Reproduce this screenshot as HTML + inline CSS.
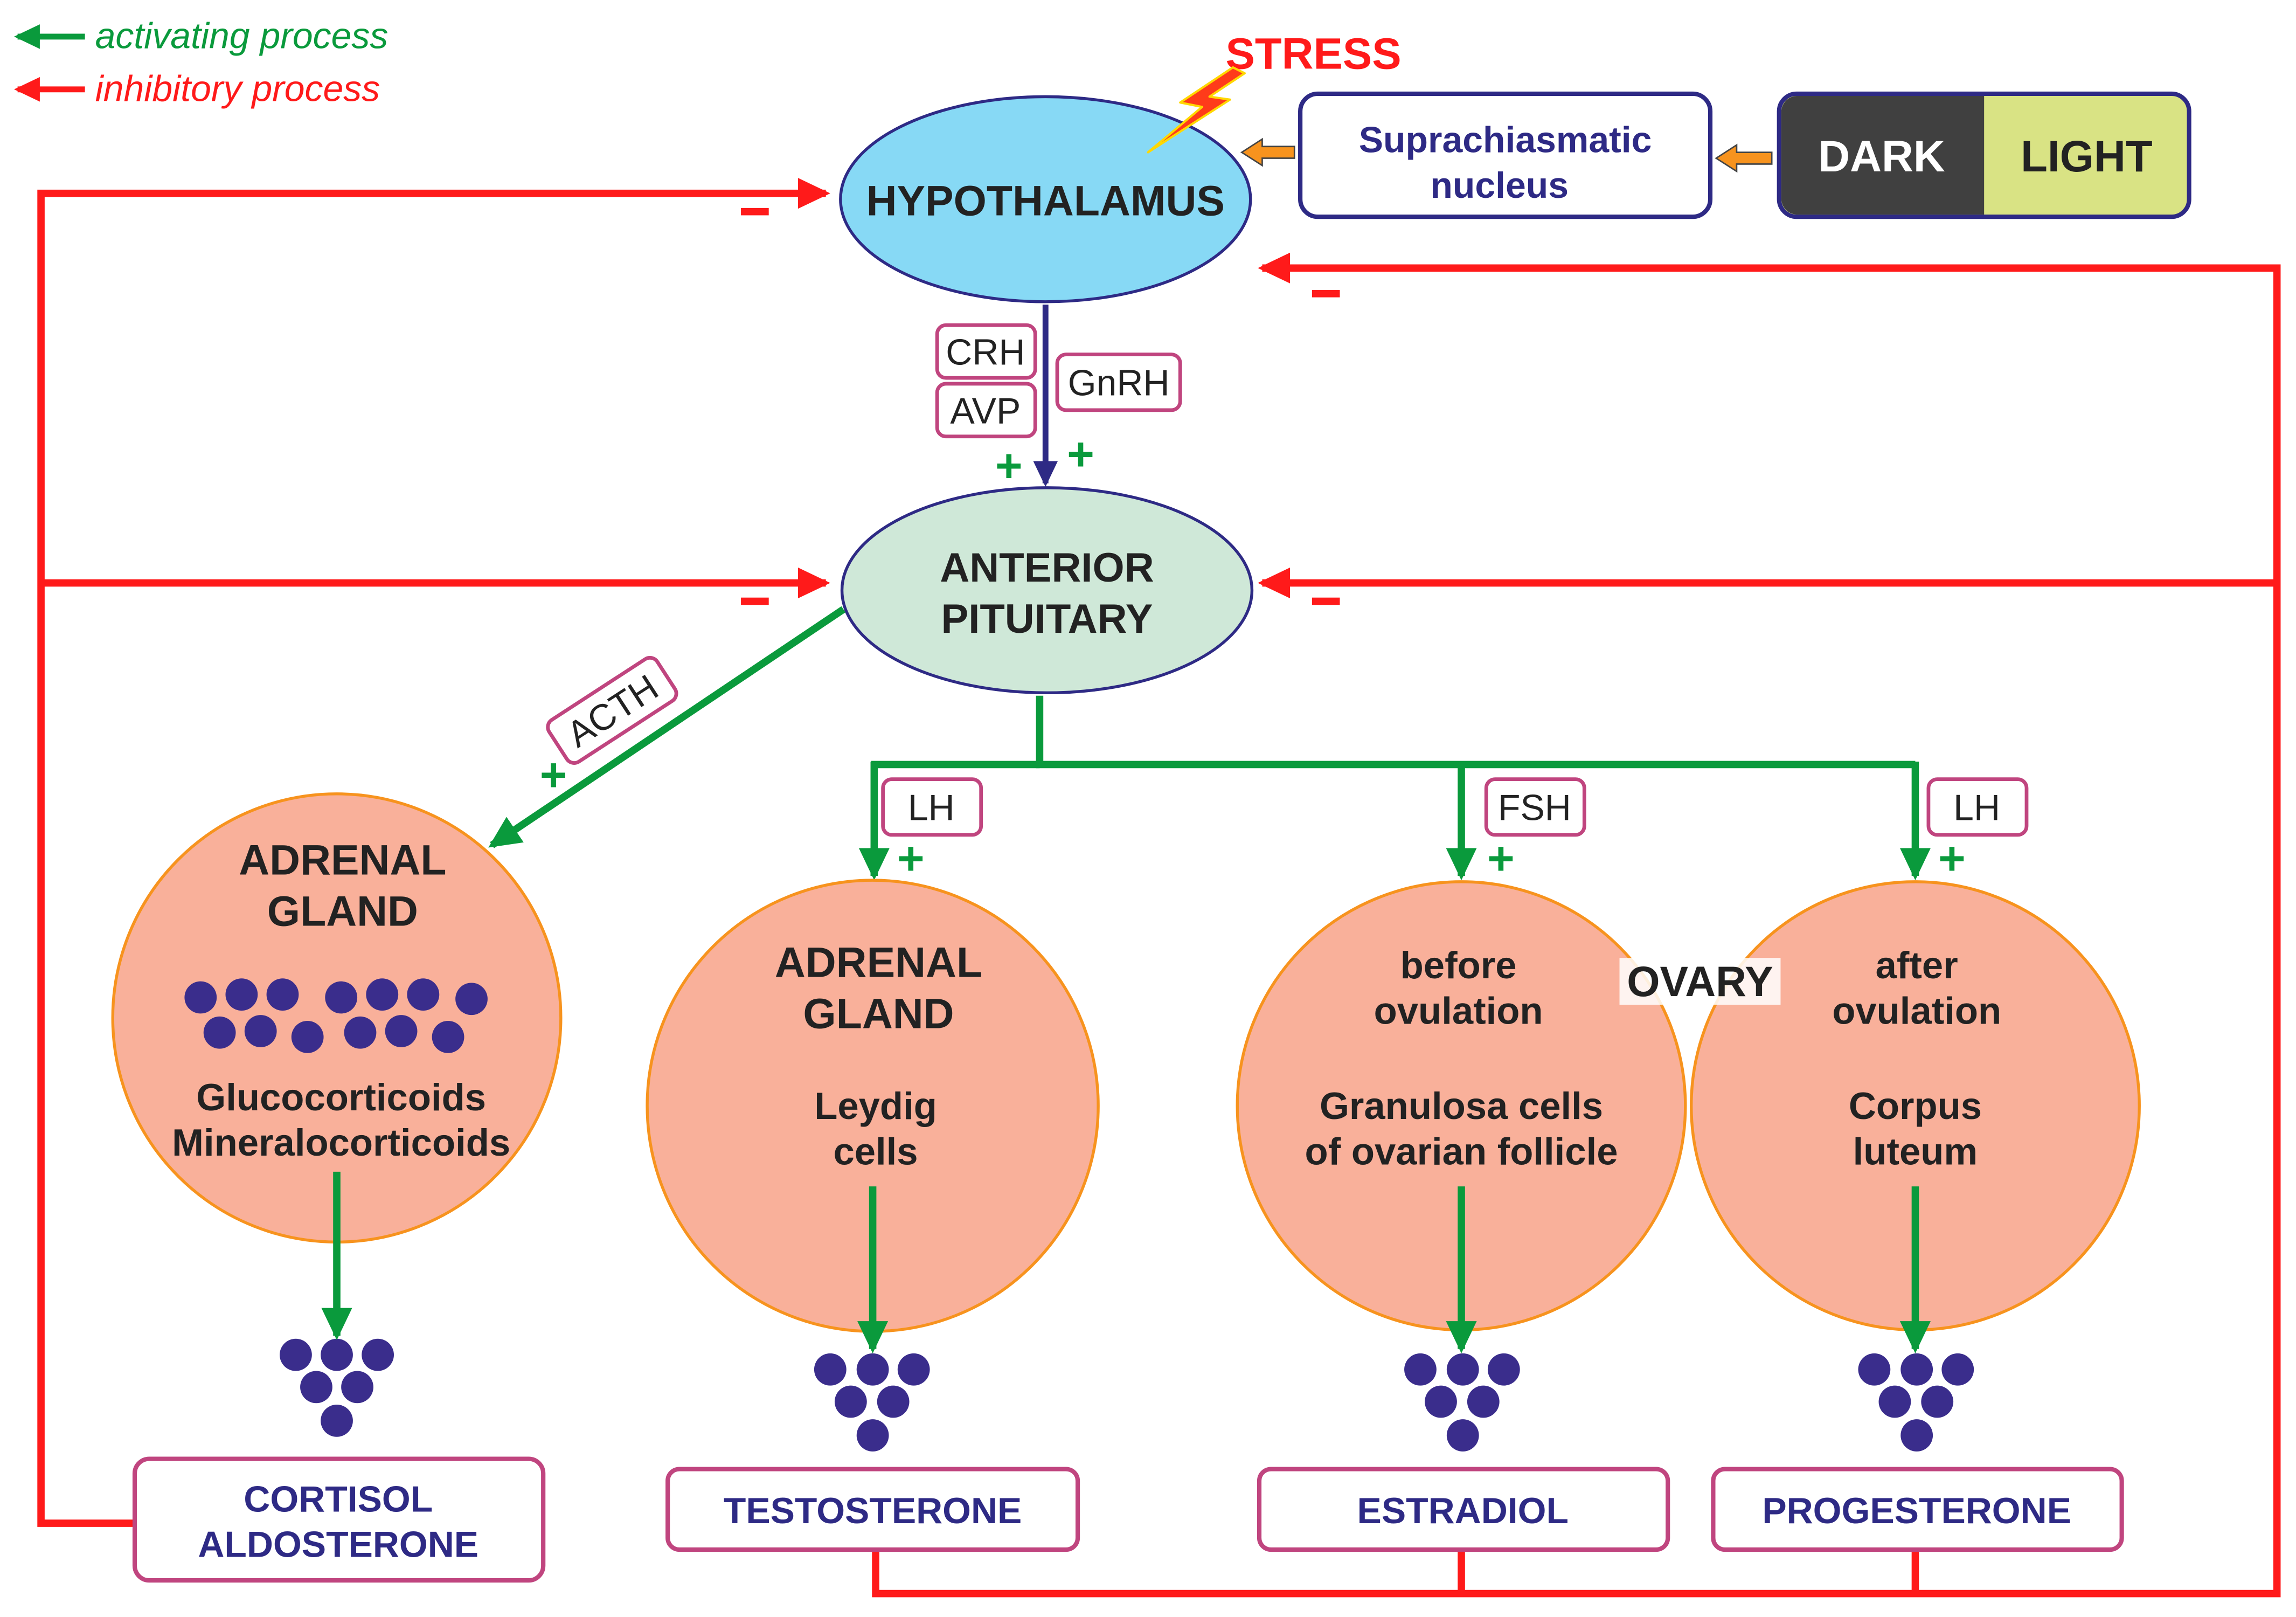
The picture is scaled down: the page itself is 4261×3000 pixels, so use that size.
<!DOCTYPE html>
<html><head><meta charset="utf-8"><style>html,body{margin:0;padding:0;background:#fff}svg{display:block}</style></head><body>
<svg width="4261" height="3000" viewBox="0 0 1568 1104" preserveAspectRatio="none" xmlns="http://www.w3.org/2000/svg" font-family="Liberation Sans, sans-serif">
<defs>
<marker id="ar" markerWidth="4.4" markerHeight="4.2" refX="3.8" refY="2.1" orient="auto" markerUnits="strokeWidth"><path d="M0,0 L4.4,2.1 L0,4.2 z" fill="#ff1a1a"/></marker>
<marker id="ag" markerWidth="4.4" markerHeight="4.2" refX="3.8" refY="2.1" orient="auto" markerUnits="strokeWidth"><path d="M0,0 L4.4,2.1 L0,4.2 z" fill="#0a9a3c"/></marker>
<marker id="ab" markerWidth="4.4" markerHeight="4.2" refX="3.8" refY="2.1" orient="auto" markerUnits="strokeWidth"><path d="M0,0 L4.4,2.1 L0,4.2 z" fill="#2e2a85"/></marker>
</defs>
<!-- legend -->
<line x1="58" y1="25" x2="12" y2="25" stroke="#0a9a3c" stroke-width="4" marker-end="url(#ag)"/>
<text x="65" y="33" font-size="25" font-style="italic" fill="#0a9a3c">activating process</text>
<line x1="58" y1="61" x2="12" y2="61" stroke="#ff1a1a" stroke-width="4" marker-end="url(#ar)"/>
<text x="65" y="69" font-size="25" font-style="italic" fill="#ff1a1a">inhibitory process</text>

<!-- red loops -->
<g fill="none" stroke="#ff1a1a" stroke-width="5">
<polyline points="92,1040 28,1040 28,132 564,132" marker-end="url(#ar)"/>
<polyline points="28,398 564,398" marker-end="url(#ar)"/>
<polyline points="598,1058 598,1088 1555,1088 1555,183 862,183" marker-end="url(#ar)"/>
<polyline points="1555,398 862,398" marker-end="url(#ar)"/>
<line x1="998" y1="1058" x2="998" y2="1088"/>
<line x1="1308" y1="1058" x2="1308" y2="1088"/>
</g>
<g fill="#ff1a1a"><rect x="506" y="142" width="19" height="5"/><rect x="506" y="408" width="19" height="5"/><rect x="896" y="198" width="19" height="5"/><rect x="896" y="408" width="19" height="5"/></g>

<!-- hypothalamus -->
<ellipse cx="714" cy="136" rx="140" ry="70" fill="#87d9f5" stroke="#2e2a85" stroke-width="2"/>
<text x="714" y="147" font-size="29" font-weight="bold" text-anchor="middle" fill="#222">HYPOTHALAMUS</text>
<text x="837" y="47" font-size="30" font-weight="bold" fill="#ff1a1a">STRESS</text>
<polygon points="842,46 806,70 821,73 784,104 840,68 826,66 850,50" fill="#ff3b1a" stroke="#ffd800" stroke-width="1.5" stroke-linejoin="round"/>

<!-- SCN -->
<rect x="888" y="64" width="280" height="84" rx="12" fill="#fff" stroke="#2e2a85" stroke-width="3"/>
<text x="1028" y="104" font-size="25" font-weight="bold" text-anchor="middle" fill="#2e2a85">Suprachiasmatic</text>
<text x="1024" y="135" font-size="25" font-weight="bold" text-anchor="middle" fill="#2e2a85">nucleus</text>
<polygon points="848,104 862,95 862,100 884,100 884,108 862,108 862,113" fill="#f7931e" stroke="#444" stroke-width="1"/>
<polygon points="1172,108 1186,99 1186,104 1210,104 1210,112 1186,112 1186,117" fill="#f7931e" stroke="#444" stroke-width="1"/>
<rect x="1215" y="64" width="280" height="84" rx="12" fill="#d9e384" stroke="#2e2a85" stroke-width="3"/>
<path d="M1227,65.5 H1355 V146.5 H1227 A11,11 0 0 1 1216.5,135 V77 A11,11 0 0 1 1227,65.5z" fill="#404040"/>
<text x="1285" y="117" font-size="30" font-weight="bold" text-anchor="middle" fill="#fff">DARK</text>
<text x="1425" y="117" font-size="30" font-weight="bold" text-anchor="middle" fill="#222">LIGHT</text>

<!-- hyp -> pit -->
<line x1="714" y1="208" x2="714" y2="330" stroke="#2e2a85" stroke-width="4" marker-end="url(#ab)"/>
<g fill="#fff" stroke="#c0457f" stroke-width="2.5">
<rect x="640" y="222" width="67" height="36" rx="6"/><rect x="640" y="262" width="67" height="36" rx="6"/><rect x="722" y="242" width="84" height="38" rx="6"/>
<rect x="603" y="532" width="67" height="38" rx="6"/><rect x="1015" y="532" width="67" height="38" rx="6"/><rect x="1317" y="532" width="67" height="38" rx="6"/>
</g>
<g font-size="25" fill="#222" text-anchor="middle">
<text x="673" y="249">CRH</text><text x="673" y="289">AVP</text><text x="764" y="270">GnRH</text>
<text x="636" y="560">LH</text><text x="1048" y="560">FSH</text><text x="1350" y="560">LH</text>
</g>
<g font-size="32" font-weight="bold" fill="#0a9a3c" text-anchor="middle">
<text x="689" y="329">+</text><text x="738" y="321">+</text><text x="378" y="540">+</text>
<text x="622" y="597">+</text><text x="1025" y="597">+</text><text x="1333" y="597">+</text>
</g>

<!-- pituitary -->
<ellipse cx="715" cy="403" rx="140" ry="70" fill="#cfe8d8" stroke="#2e2a85" stroke-width="2"/>
<text x="715" y="397" font-size="28" font-weight="bold" text-anchor="middle" fill="#222">ANTERIOR</text>
<text x="715" y="432" font-size="28" font-weight="bold" text-anchor="middle" fill="#222">PITUITARY</text>

<!-- green -->
<g fill="none" stroke="#0a9a3c" stroke-width="5">
<line x1="576" y1="416" x2="336" y2="577" marker-end="url(#ag)"/>
<polyline points="710,475 710,522 1308,522"/>
<line x1="597" y1="520" x2="597" y2="598" marker-end="url(#ag)"/>
<line x1="595" y1="522" x2="710" y2="522"/>
<line x1="998" y1="520" x2="998" y2="598" marker-end="url(#ag)"/>
<line x1="1308" y1="520" x2="1308" y2="598" marker-end="url(#ag)"/>
</g>
<g transform="translate(418,485) rotate(-33)">
<rect x="-44" y="-17" width="88" height="34" rx="6" fill="#fff" stroke="#c0457f" stroke-width="2.5"/>
<text x="0" y="9" font-size="25" text-anchor="middle" fill="#222">ACTH</text>
</g>

<!-- circles -->
<g fill="#f9b09a" stroke="#f7931e" stroke-width="2">
<circle cx="230" cy="695" r="153"/><circle cx="596" cy="755" r="154"/><circle cx="998" cy="755" r="153"/><circle cx="1308" cy="755" r="153"/>
</g>
<g font-weight="bold" fill="#222" text-anchor="middle">
<text x="234" y="597" font-size="29">ADRENAL</text><text x="234" y="632" font-size="29">GLAND</text>
<text x="233" y="758" font-size="26">Glucocorticoids</text><text x="233" y="789" font-size="26">Mineralocorticoids</text>
<text x="600" y="667" font-size="29">ADRENAL</text><text x="600" y="702" font-size="29">GLAND</text>
<text x="598" y="764" font-size="26">Leydig</text><text x="598" y="795" font-size="26">cells</text>
<text x="996" y="668" font-size="26">before</text><text x="996" y="699" font-size="26">ovulation</text>
<text x="998" y="764" font-size="26">Granulosa cells</text><text x="998" y="795" font-size="26">of ovarian follicle</text>
<text x="1309" y="668" font-size="26">after</text><text x="1309" y="699" font-size="26">ovulation</text>
<text x="1308" y="764" font-size="26">Corpus</text><text x="1308" y="795" font-size="26">luteum</text>
</g>
<rect x="1106" y="654" width="110" height="32" fill="#fff" opacity="0.85"/>
<text x="1161" y="680" font-size="29" font-weight="bold" text-anchor="middle" fill="#222">OVARY</text>

<!-- dots -->
<g fill="#3a2d8c">
<circle cx="137" cy="681" r="11"/><circle cx="165" cy="679" r="11"/><circle cx="193" cy="679" r="11"/><circle cx="233" cy="681" r="11"/><circle cx="261" cy="679" r="11"/><circle cx="289" cy="679" r="11"/><circle cx="322" cy="682" r="11"/>
<circle cx="150" cy="705" r="11"/><circle cx="178" cy="704" r="11"/><circle cx="210" cy="708" r="11"/><circle cx="246" cy="705" r="11"/><circle cx="274" cy="704" r="11"/><circle cx="306" cy="708" r="11"/>
<circle cx="202" cy="925" r="11"/><circle cx="230" cy="925" r="11"/><circle cx="258" cy="925" r="11"/><circle cx="216" cy="947" r="11"/><circle cx="244" cy="947" r="11"/><circle cx="230" cy="970" r="11"/>
<g id="gr"><circle cx="567" cy="935" r="11"/><circle cx="596" cy="935" r="11"/><circle cx="624" cy="935" r="11"/><circle cx="581" cy="957" r="11"/><circle cx="610" cy="957" r="11"/><circle cx="596" cy="980" r="11"/></g>
<use href="#gr" x="403"/><use href="#gr" x="713"/>
</g>
<g fill="none" stroke="#0a9a3c" stroke-width="5">
<line x1="230" y1="800" x2="230" y2="912" marker-end="url(#ag)"/>
<line x1="596" y1="810" x2="596" y2="921" marker-end="url(#ag)"/>
<line x1="998" y1="810" x2="998" y2="921" marker-end="url(#ag)"/>
<line x1="1308" y1="810" x2="1308" y2="921" marker-end="url(#ag)"/>
</g>

<!-- hormone boxes -->
<g fill="#fff" stroke="#c0457f" stroke-width="3">
<rect x="92" y="996" width="279" height="83" rx="10"/><rect x="456" y="1003" width="280" height="55" rx="8"/><rect x="860" y="1003" width="279" height="55" rx="8"/><rect x="1170" y="1003" width="279" height="55" rx="8"/>
</g>
<g font-size="25" font-weight="bold" fill="#2e2a85" text-anchor="middle">
<text x="231" y="1032">CORTISOL</text><text x="231" y="1063">ALDOSTERONE</text>
<text x="596" y="1040">TESTOSTERONE</text><text x="999" y="1040">ESTRADIOL</text><text x="1309" y="1040">PROGESTERONE</text>
</g>
</svg>
</body></html>
